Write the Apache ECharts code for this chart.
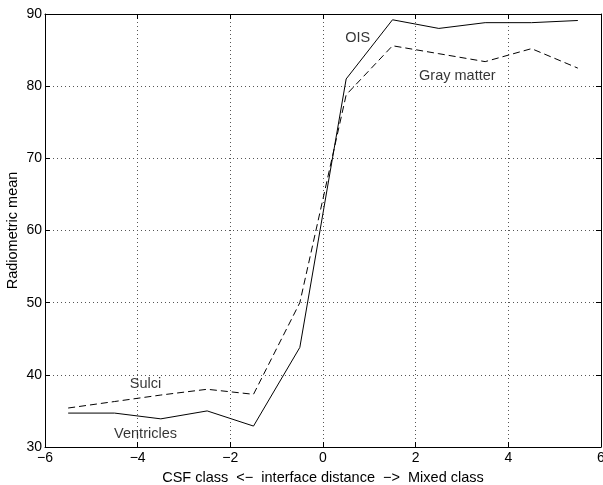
<!DOCTYPE html>
<html>
<head>
<meta charset="utf-8">
<script src="https://cdn.jsdelivr.net/npm/echarts@6/dist/echarts.min.js"></script>
<style>
html,body{margin:0;padding:0;background:#fff;}
#chart{width:603px;height:485px;}
</style>
</head>
<body>
<div id="chart"></div>
<script>
const xValues = [-5.5, -4.5, -3.5, -2.5, -1.5, -0.5, 0.5, 1.5, 2.5, 3.5, 4.5, 5.5];
const solidValues = [34.7, 34.7, 33.9, 35.0, 32.9, 43.8, 81.0, 89.2, 88.0, 88.8, 88.8, 89.1];
const dashedValues = [35.4, 36.3, 37.2, 38.0, 37.3, 50.0, 78.8, 85.6, 84.5, 83.4, 85.2, 82.5];
const annotationNames = ['OIS', 'Gray matter', 'Sulci', 'Ventricles'];
const annotationX = [0.75, 2.9, -3.83, -3.83];
const annotationY = [86.7, 81.4, 38.7, 31.8];

const font = "'Liberation Sans', Arial, Helvetica, sans-serif";
const pair = (xs, ys) => xs.map((x, i) => [x, ys[i]]);
const minus = v => String(v).replace('-', '\u2212');

const gridLine = { show: true, lineStyle: { color: '#555', type: [1, 3], width: 1 } };
const axisLine = { show: true, onZero: false, lineStyle: { color: '#000', width: 1 } };
const tick = { show: true, inside: true, length: 5, lineStyle: { color: '#000' } };

const chart = echarts.init(document.getElementById('chart'), null, { renderer: 'canvas' });
chart.setOption({
  backgroundColor: '#fff',
  animation: false,
  grid: { left: 45, right: 2, top: 14, bottom: 38, containLabel: false, outerBoundsMode: 'none' },
  xAxis: [
    {
      type: 'value', min: -6, max: 6, interval: 2, position: 'bottom',
      axisLine, axisTick: tick, splitLine: gridLine,
      axisLabel: { color: '#000', fontFamily: font, fontSize: 14, margin: 4, formatter: minus },
      name: 'CSF class  <\u2212  interface distance  \u2212>  Mixed class',
      nameLocation: 'middle', nameGap: 23, nameMoveOverlap: false,
      nameTextStyle: { color: '#000', fontFamily: font, fontSize: 14.5 }
    },
    {
      type: 'value', min: -6, max: 6, interval: 2, position: 'top',
      axisLine, axisTick: tick, splitLine: { show: false }, axisLabel: { show: false }
    }
  ],
  yAxis: [
    {
      type: 'value', min: 30, max: 90, interval: 10, position: 'left',
      axisLine, axisTick: tick, splitLine: gridLine,
      axisLabel: { color: '#000', fontFamily: font, fontSize: 14, margin: 3 },
      name: 'Radiometric mean', nameLocation: 'middle', nameGap: 25, nameMoveOverlap: false,
      nameTextStyle: { color: '#000', fontFamily: font, fontSize: 14.5 }
    },
    {
      type: 'value', min: 30, max: 90, interval: 10, position: 'right',
      axisLine, axisTick: tick, splitLine: { show: false }, axisLabel: { show: false }
    }
  ],
  series: [
    {
      type: 'line', data: pair(xValues, solidValues), showSymbol: false, symbol: 'none',
      lineStyle: { color: '#000', width: 1, type: 'solid' }, z: 3
    },
    {
      type: 'line', data: pair(xValues, dashedValues), showSymbol: false, symbol: 'none',
      lineStyle: { color: '#000', width: 1, type: [7, 4] }, z: 3
    },
    {
      type: 'scatter', symbolSize: 0, silent: true,
      data: annotationNames.map((n, i) => ({ name: n, value: [annotationX[i], annotationY[i]] })),
      label: {
        show: true, position: 'inside', formatter: p => p.name,
        color: '#000', fontFamily: font, fontSize: 14.5
      }
    }
  ]
});
</script>
</body>
</html>
